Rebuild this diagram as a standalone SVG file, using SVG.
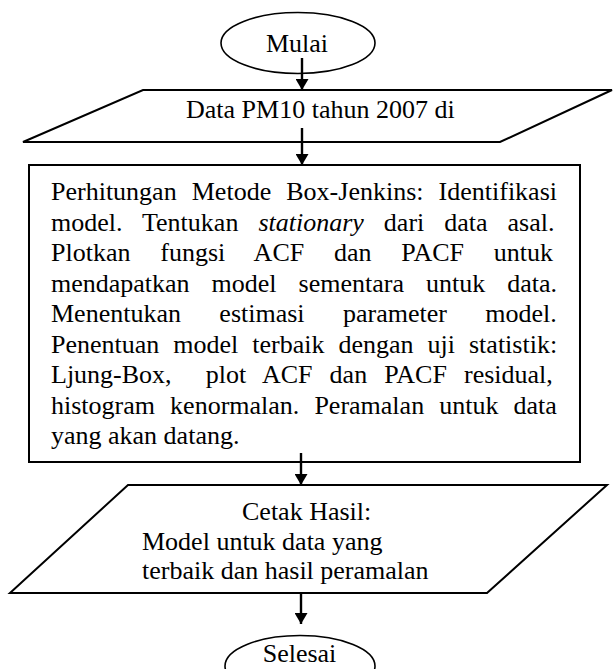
<svg xmlns="http://www.w3.org/2000/svg" width="613" height="669" viewBox="0 0 613 669">
<style>
  .shape { fill: #ffffff; stroke: #000000; stroke-width: 2; }
  .term { fill: #ffffff; stroke: #000000; stroke-width: 1.6; }
  .t { font-family: "Liberation Serif", "Times New Roman", serif; font-size: 26px; fill: #000000; }
  .c { text-anchor: middle; }
  .conn { stroke: #000000; stroke-width: 2.4; fill: none; marker-end: url(#arrow); }
</style>
<defs>
  <marker id="arrow" markerUnits="userSpaceOnUse" viewBox="0 0 11 13" markerWidth="11" markerHeight="13" refX="11" refY="6.5" orient="auto">
    <path d="M0,0 L11,6.5 L0,13 Z" fill="#000000"/>
  </marker>
</defs>
<rect width="613" height="669" fill="#ffffff"/>

<g id="mulai">
  <ellipse class="term" cx="298" cy="43" rx="77" ry="30.5"/>
  <text class="t c" x="297" y="52">Mulai</text>
</g>

<g id="input-data">
  <polygon class="shape" points="143,90 612,90 500,142 23,142"/>
  <text class="t" x="186" y="118">Data PM10 tahun 2007 di</text>
</g>

<g id="proses">
  <rect class="shape" x="29" y="165" width="551" height="297"/>
  <text class="t" x="51" y="200" word-spacing="8.6">Perhitungan Metode Box-Jenkins: Identifikasi</text>
  <text class="t" x="51" y="230.5" word-spacing="13.5">model. Tentukan <tspan font-style="italic">stationary</tspan> dari data asal.</text>
  <text class="t" x="51" y="261" word-spacing="23.3">Plotkan fungsi ACF dan PACF untuk</text>
  <text class="t" x="51" y="291.5" word-spacing="15.5">mendapatkan model sementara untuk data.</text>
  <text class="t" x="51" y="322" word-spacing="31.9">Menentukan estimasi parameter model.</text>
  <text class="t" x="51" y="352.5" word-spacing="7.5">Penentuan model terbaik dengan uji statistik:</text>
  <text class="t" x="51" y="383" word-spacing="10.6" style="white-space:pre">Ljung-Box,  plot ACF dan PACF residual,</text>
  <text class="t" x="51" y="413.5" word-spacing="8.6">histogram kenormalan. Peramalan untuk data</text>
  <text class="t" x="51" y="444">yang akan datang.</text>
</g>

<g id="output">
  <polygon class="shape" points="128,485 607,485 487,593 10,593"/>
  <text class="t" x="242" y="520">Cetak Hasil:</text>
  <text class="t" x="142" y="550">Model untuk data yang</text>
  <text class="t" x="142" y="579">terbaik dan hasil peramalan</text>
</g>

<g id="selesai">
  <ellipse class="term" cx="300" cy="666" rx="75" ry="30.5"/>
  <text class="t c" x="299.5" y="662">Selesai</text>
</g>

<g id="connectors">
  <line class="conn" x1="302" y1="58" x2="302" y2="90"/>
  <line class="conn" x1="302" y1="128" x2="302" y2="165"/>
  <line class="conn" x1="301" y1="453" x2="301" y2="485"/>
  <line class="conn" x1="301" y1="593" x2="301" y2="624"/>
</g>
</svg>
